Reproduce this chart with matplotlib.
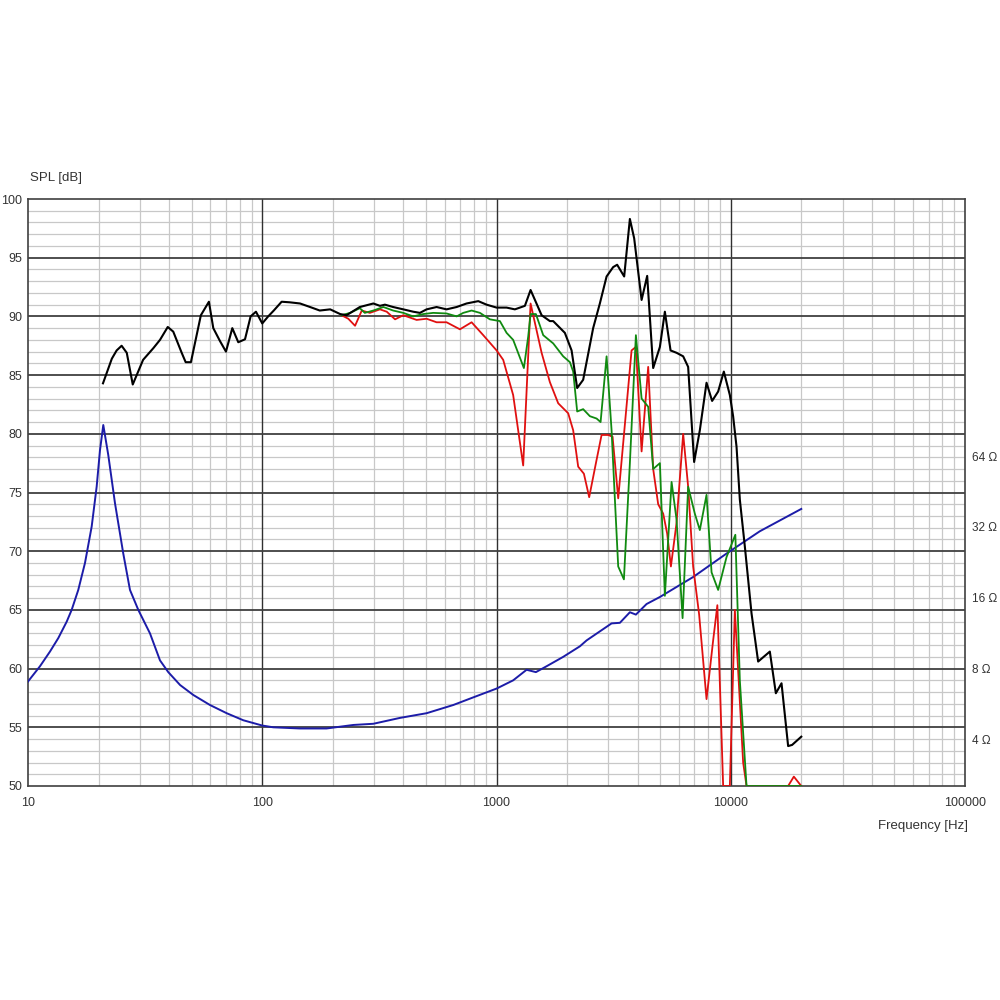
import matplotlib
matplotlib.use("Agg")
import matplotlib.pyplot as plt
from matplotlib.ticker import FixedLocator, NullFormatter
import numpy as np

# ---------------- data ----------------
spl_freq = [20.9, 22.8, 23.9, 25.1, 26.4, 28.0, 31.0, 34.3, 36.6, 39.5, 41.7, 45.3, 47.1, 49.6,
            54.7, 59.2, 61.8, 66.0, 70.0, 74.5, 79.0, 84.4, 89.2, 94.0, 100, 106, 112, 121, 131,
            145, 160, 176, 195, 215, 229, 261, 298, 318, 334, 362, 400, 441, 471, 503, 555, 612,
            676, 745, 836, 907, 1001, 1104, 1198, 1322, 1398, 1558, 1690, 1746, 1958, 2092, 2210,
            2344, 2586, 2762, 2951, 3148, 3274, 3508, 3710, 3870, 4163, 4398, 4665, 4983, 5233,
            5534, 5869, 6264, 6578, 6977, 7379, 7881, 8327, 8835, 9343, 9911, 10235, 10585,
            10934, 11486, 12266, 13090, 14684, 15578, 16472, 17578, 18281, 20000]
spl_axis = [84.3, 86.4, 87.1, 87.5, 86.9, 84.2, 86.3, 87.3, 88.0, 89.1, 88.7, 86.9, 86.1, 86.1,
            90.1, 91.25, 89.0, 87.9, 87.0, 89.0, 87.8, 88.05, 90.0, 90.4, 89.4, 90.0, 90.5, 91.25,
            91.2, 91.1, 90.8, 90.5, 90.6, 90.2, 90.1, 90.8, 91.1, 90.9, 91.0, 90.8, 90.6, 90.4,
            90.3, 90.6, 90.8, 90.6, 90.8, 91.1, 91.3, 91.0, 90.75, 90.75, 90.6, 90.9, 92.25, 90.1,
            89.6, 89.6, 88.6, 87.1, 83.9, 84.6, 89.0, 91.1, 93.4, 94.2, 94.4, 93.4, 98.3, 96.65,
            91.4, 93.45, 85.6, 87.4, 90.4, 87.1, 86.9, 86.6, 85.7, 77.6, 80.3, 84.35, 82.8, 83.6,
            85.3, 83.3, 81.5, 78.9, 74.4, 70.4, 64.7, 60.6, 61.45, 57.9, 58.75, 53.4, 53.5, 54.2]

off60_freq = [218, 233, 249, 266, 288, 318, 340, 369, 400, 456, 503, 555, 612, 698, 783, 878,
              1001, 1068, 1178, 1300, 1398, 1558, 1690, 1834, 2023, 2125, 2232, 2361, 2487, 2657,
              2809, 2998, 3130, 3308, 3772, 3936, 4163, 4442, 4665, 4900, 5147, 5353, 5553, 5869,
              6264, 6578, 6909, 7329, 7881, 8411, 8767, 9280, 9911, 10411, 11296, 11678, 17578,
              18592, 20000]
off60_spl = [90.1, 89.8, 89.2, 90.5, 90.3, 90.6, 90.4, 89.75, 90.1, 89.7, 89.8, 89.5, 89.5, 88.9,
             89.5, 88.4, 87.1, 86.3, 83.3, 77.3, 91.1, 86.9, 84.4, 82.6, 81.75, 80.3, 77.2, 76.6,
             74.6, 77.5, 79.9, 79.9, 79.75, 74.5, 87.1, 87.4, 78.5, 85.7, 77.0, 74.0, 73.2, 71.5,
             68.7, 72.4, 80.0, 75.5, 68.7, 64.6, 57.4, 62.4, 65.4, 50.0, 50.0, 65.0, 52.0, 50.0,
             50.0, 50.8, 50.0]

off30_freq = [218, 237, 261, 274, 298, 329, 362, 400, 441, 487, 537, 612, 676, 721, 783, 850,
              937, 1034, 1104, 1178, 1309, 1366, 1398, 1473, 1583, 1746, 1926, 2058, 2125, 2210,
              2344, 2504, 2675, 2782, 2951, 3099, 3202, 3308, 3499, 3710, 3936, 4163, 4442, 4665,
              4983, 5233, 5590, 5869, 6228, 6578, 7025, 7379, 7881, 8281, 8835, 9594, 10462,
              10934, 11678, 20000]
off30_spl = [90.1, 90.3, 90.7, 90.3, 90.5, 90.8, 90.5, 90.3, 90.0, 90.2, 90.3, 90.25, 90.0, 90.3,
             90.5, 90.3, 89.75, 89.6, 88.6, 88.0, 85.6, 88.3, 90.2, 90.2, 88.4, 87.7, 86.6, 86.1,
             85.3, 81.9, 82.1, 81.5, 81.3, 81.0, 86.6, 80.3, 74.4, 68.7, 67.6, 77.5, 88.4, 83.0,
             82.3, 77.0, 77.5, 66.2, 75.9, 72.7, 64.3, 75.5, 73.2, 71.8, 74.8, 68.2, 66.7, 69.5,
             71.4, 59.0, 50.0, 50.0]

# impedance curve, plotted on the SPL scale (4 ohm = 54 dB, 6.02 dB per doubling)
imp_freq = [10, 11.25, 12.41, 13.47, 14.63, 15.36, 16.39, 17.51, 18.7, 19.64, 20.29, 20.96,
            22.01, 23.51, 25.51, 27.25, 29.57, 33.17, 36.6, 39.7, 44.6, 50.8, 59.8, 70.5, 83,
            100, 111.4, 145, 188, 245, 298, 387, 503, 654, 796, 1001, 1178, 1344, 1473, 1636,
            1926, 2270, 2424, 3099, 3363, 3710, 3936, 4371, 4983, 6909, 9594, 13312, 20000]
imp_level = [58.9, 60.2, 61.45, 62.6, 64.0, 65.0, 66.7, 69.0, 72.1, 75.5, 78.6, 80.75, 78.2,
             74.1, 69.8, 66.7, 65.0, 63.0, 60.7, 59.7, 58.6, 57.75, 56.9, 56.2, 55.6, 55.15,
             55.0, 54.9, 54.9, 55.2, 55.3, 55.8, 56.2, 56.9, 57.55, 58.3, 59.0, 59.9, 59.7, 60.2,
             61.0, 61.9, 62.4, 63.85, 63.9, 64.8, 64.6, 65.5, 66.1, 67.8, 69.8, 71.7, 73.6]

x_ticks = [10, 100, 1000, 10000, 100000]
x_tick_labels = ["10", "100", "1000", "10000", "100000"]
y_ticks = [50, 55, 60, 65, 70, 75, 80, 85, 90, 95, 100]
ohm_values = [4, 8, 16, 32, 64]
ohm_labels = ["4 \u03a9", "8 \u03a9", "16 \u03a9", "32 \u03a9", "64 \u03a9"]

# ---------------- figure ----------------
plt.rcParams['font.family'] = ['Liberation Sans', 'DejaVu Sans']
fig = plt.figure(figsize=(10, 10), dpi=100)
ax = fig.add_axes([0.028, 0.214, 0.937, 0.587])
ax.set_xscale('log')
ax.set_xlim(10, 100000)
ax.set_ylim(50, 100)

# grid
minor_x = [m * 10 ** d for d in range(1, 5) for m in range(2, 10)]
for xv in minor_x:
    ax.axvline(xv, color='#c8c8c8', lw=0.9, zorder=0)
for xv in x_ticks[1:-1]:
    ax.axvline(xv, color='#303030', lw=1.0, zorder=0.5)
for yv in range(51, 100):
    if yv % 5:
        ax.axhline(yv, color='#c8c8c8', lw=0.9, zorder=0)
for yv in y_ticks[1:-1]:
    ax.axhline(yv, color='#404040', lw=1.3, zorder=0.5)

ax.plot(imp_freq, imp_level, color='#1c1ca8', lw=1.4, zorder=3)
ax.plot(off60_freq, off60_spl, color='#e01010', lw=1.3, zorder=4)
ax.plot(off30_freq, off30_spl, color='#108a10', lw=1.3, zorder=5)
ax.plot(spl_freq, spl_axis, color='#000000', lw=1.5, zorder=6)

for s in ax.spines.values():
    s.set_color('#404040')
    s.set_linewidth(1.2)

ax.xaxis.set_major_locator(FixedLocator(x_ticks))
ax.xaxis.set_minor_locator(FixedLocator(minor_x))
ax.xaxis.set_minor_formatter(NullFormatter())
ax.set_xticklabels(x_tick_labels)
ax.set_yticks(y_ticks)
ax.set_yticklabels([str(v) for v in y_ticks])
ax.tick_params(axis='both', which='both', length=0, labelsize=9, labelcolor='#333333')
ax.tick_params(axis='x', pad=8)
ax.tick_params(axis='y', pad=4)

ax2 = ax.twinx()
ax2.set_ylim(50, 100)
ax2.set_yticks([54 + 20 * np.log10(z / 4) for z in ohm_values])
ax2.set_yticklabels(ohm_labels)
ax2.tick_params(axis='y', length=0, labelsize=8.5, labelcolor='#333333', pad=5)
for s in ax2.spines.values():
    s.set_visible(False)

fig.text(0.030, 0.822, "SPL [dB]", fontsize=9.5, color='#333333', ha='left', va='center')
fig.text(0.968, 0.174, "Frequency [Hz]", fontsize=9.5, color='#333333', ha='right', va='center')

fig.savefig("out.png", dpi=100, facecolor='white')
